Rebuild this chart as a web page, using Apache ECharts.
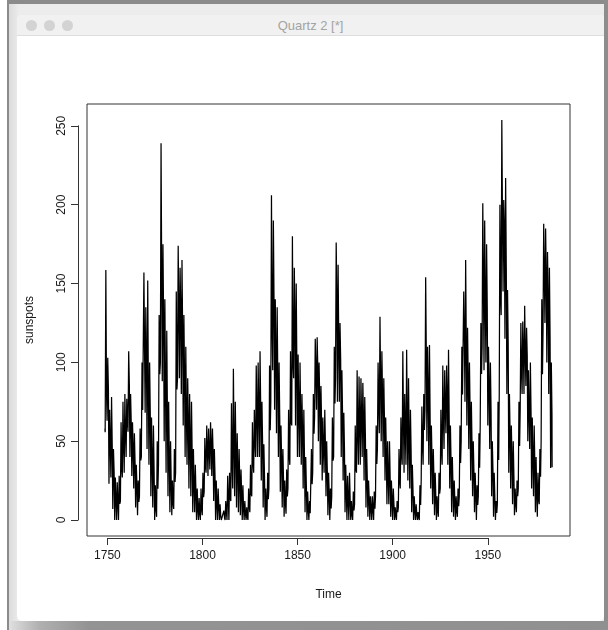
<!DOCTYPE html>
<html>
<head>
<meta charset="utf-8">
<script src="https://cdn.jsdelivr.net/npm/echarts@6/dist/echarts.min.js"></script>
<style>
  html, body { margin: 0; padding: 0; width: 608px; height: 630px; overflow: hidden; background: #fff; }
  #backdrop { position: absolute; left: 7px; top: 0; width: 599px; height: 626px;
    border-top: 4px solid #8b8b8b; border-left: 2px solid #8b8b8b;
    background: linear-gradient(to right, #dcdcdc 0px, #ececec 10px, #ececec 100%); }
  #rightEdge { position: absolute; left: 604px; top: 0; width: 4px; height: 630px; background: #8d8d8d; }
  #bottomEdge { position: absolute; left: 9px; top: 621px; width: 599px; height: 9px;
    background: linear-gradient(to right, #e0e0e0 0px, #b0b0b0 30px, #939393 80px, #909090 100%); }
  #win { position: absolute; left: 17px; top: 15px; width: 587px; height: 606px; background: #fff;
    border-radius: 5px; overflow: hidden; }
  #titlebar { position: absolute; left: 0; top: 0; width: 100%; height: 20px; background: #f1f1f1;
    border-bottom: 1px solid #dedede; }
  .light { position: absolute; top: 5px; width: 11px; height: 11px; border-radius: 50%; background: #d3d3d3; }
  #title { position: absolute; left: 0; top: 3px; width: 100%; text-align: center;
    font-family: "Liberation Sans", Arial, sans-serif; font-size: 13px; color: #a3a3a3; }
  #chart { position: absolute; left: 0; top: 0; width: 608px; height: 630px; }
</style>
</head>
<body>
<div id="backdrop"></div>
<div id="rightEdge"></div>
<div id="bottomEdge"></div>
<div id="win">
  <div id="titlebar">
    <div class="light" style="left:9px"></div>
    <div class="light" style="left:27px"></div>
    <div class="light" style="left:45px"></div>
    <div id="title">Quartz 2 [*]</div>
  </div>
</div>
<div id="chart"></div>
<script>
// Monthly sunspot numbers 1749-1983, summarised per year by the lowest
// month, the highest month and the annual mean, plus the first and last months.
const firstYear = 1749;
const firstMonthValue = 58.0;   // Jan 1749
const lastMonthValue = 33.4;    // Dec 1983

const yearHigh = [
  158.6, 103, 70, 78, 45, 27, 24, 28, 62, 75,      // 1749-1758
  80, 77, 107, 80, 62, 55, 35, 25, 58, 100,        // 1759-1768
  157, 135, 152, 100, 65, 60, 22, 50, 130, 239,    // 1769-1778
  175, 140, 120, 75, 50, 25, 45, 145, 174, 160,    // 1779-1788
  165, 130, 110, 90, 80, 75, 45, 35, 20, 14,       // 1789-1798
  20, 30, 52, 60, 58, 62, 58, 45, 25, 20,          // 1799-1808
  10, 0, 6, 12, 28, 30, 74, 96, 75, 55,            // 1809-1818
  45, 32, 22, 12, 8, 20, 35, 62, 70, 98,           // 1819-1828
  100, 107, 75, 48, 20, 30, 98, 206, 190, 140,     // 1829-1838
  135, 100, 60, 45, 25, 32, 70, 107, 180, 160,     // 1839-1848
  150, 105, 100, 80, 70, 40, 18, 12, 45, 80,       // 1849-1858
  115, 116, 100, 85, 65, 70, 50, 30, 20, 65,       // 1859-1868
  110, 176, 162, 125, 95, 68, 35, 28, 30, 12,      // 1869-1878
  18, 60, 95, 91, 90, 87, 78, 45, 25, 15,          // 1879-1888
  15, 18, 60, 100, 129, 107, 90, 65, 50, 50,       // 1889-1898
  25, 20, 8, 12, 45, 65, 107, 80, 108, 90,         // 1899-1908
  70, 35, 15, 10, 5, 22, 72, 80, 154, 110,         // 1909-1918
  111, 60, 45, 30, 15, 30, 70, 98, 95, 98,         // 1919-1928
  108, 60, 40, 25, 15, 20, 60, 110, 145, 165,      // 1929-1938
  122, 100, 75, 50, 30, 22, 55, 125, 201, 190,     // 1939-1948
  175, 110, 100, 50, 30, 12, 75, 200, 253.8, 203,  // 1949-1958
  217, 146, 80, 60, 50, 20, 25, 75, 125, 126,      // 1959-1968
  136, 122, 95, 100, 65, 60, 40, 30, 45, 140,      // 1969-1978
  188, 185, 170, 160, 100                          // 1979-1983
];

const yearLow = [
  55.7, 63, 23, 27, 7, 0, 0, 0, 12, 27,            // 1749-1758
  30, 40, 56, 40, 28, 20, 8, 3, 15, 40,            // 1759-1768
  70, 68, 45, 35, 15, 8, 0, 2, 35, 100,            // 1769-1778
  88, 50, 30, 15, 5, 3, 7, 30, 90, 90,             // 1779-1788
  80, 60, 40, 35, 20, 15, 5, 5, 0, 0,              // 1789-1798
  0, 3, 18, 30, 28, 32, 28, 12, 0, 0,              // 1799-1808
  0, 0, 0, 0, 0, 0, 12, 20, 15, 8,                 // 1809-1818
  5, 3, 0, 0, 0, 0, 5, 15, 30, 40,                 // 1819-1828
  40, 40, 25, 8, 0, 2, 20, 75, 95, 70,             // 1829-1838
  55, 40, 18, 8, 2, 4, 20, 35, 60, 90,             // 1839-1848
  60, 40, 40, 35, 20, 5, 0, 0, 5, 30,              // 1849-1858
  65, 70, 50, 35, 25, 30, 15, 3, 0, 15,            // 1859-1868
  40, 90, 75, 75, 40, 25, 5, 0, 0, 0,              // 1869-1878
  0, 10, 30, 35, 35, 40, 25, 8, 2, 0,              // 1879-1888
  0, 0, 15, 45, 55, 50, 40, 25, 10, 10,            // 1889-1898
  2, 0, 0, 0, 8, 20, 35, 30, 35, 25,               // 1899-1908
  20, 5, 0, 0, 0, 0, 25, 35, 70, 50,               // 1909-1918
  35, 20, 10, 3, 0, 2, 20, 35, 45, 55,             // 1919-1928
  35, 20, 5, 2, 0, 2, 15, 50, 80, 75,              // 1929-1938
  60, 45, 25, 15, 5, 0, 15, 60, 110, 95,           // 1939-1948
  100, 60, 45, 15, 2, 0, 10, 80, 130, 145,         // 1949-1958
  115, 80, 30, 20, 10, 3, 5, 20, 70, 80,           // 1959-1968
  80, 85, 50, 45, 20, 15, 5, 2, 10, 50,            // 1969-1978
  120, 125, 100, 80, 33                            // 1979-1983
];

const yearMean = [
  80.9, 83.4, 47.7, 47.8, 30.7, 12.2, 9.6, 10.2, 32.4, 47.6,          // 1749-1758
  54.0, 62.9, 85.9, 61.2, 45.1, 36.4, 20.9, 11.4, 37.8, 69.8,         // 1759-1768
  106.1, 100.8, 81.6, 66.5, 34.8, 30.6, 7.0, 19.8, 92.5, 154.4,       // 1769-1778
  125.9, 84.8, 68.1, 38.5, 22.8, 10.2, 24.1, 82.9, 132.0, 130.9,      // 1779-1788
  118.1, 89.9, 66.6, 60.0, 46.9, 41.0, 21.3, 16.0, 6.4, 4.1,          // 1789-1798
  6.8, 14.5, 34.0, 45.0, 43.1, 47.5, 42.2, 28.1, 10.1, 8.1,           // 1799-1808
  2.5, 0.0, 1.4, 5.0, 12.2, 13.9, 35.4, 45.8, 41.1, 30.1,             // 1809-1818
  23.9, 15.6, 6.6, 4.0, 1.8, 8.5, 16.6, 36.3, 49.6, 64.2,             // 1819-1828
  67.0, 70.9, 47.8, 27.5, 8.5, 13.2, 56.9, 121.5, 138.3, 103.2,       // 1829-1838
  85.7, 64.6, 36.7, 24.2, 10.7, 15.0, 40.1, 61.5, 98.5, 124.7,        // 1839-1848
  96.3, 66.6, 64.5, 54.1, 39.0, 20.6, 6.7, 4.3, 22.7, 54.8,           // 1849-1858
  93.8, 95.8, 77.2, 59.1, 44.0, 47.0, 30.5, 16.3, 7.3, 37.6,          // 1859-1868
  74.0, 139.0, 111.2, 101.6, 66.2, 44.7, 17.0, 11.3, 12.4, 3.4,       // 1869-1878
  6.0, 32.3, 54.3, 59.7, 63.7, 63.5, 52.2, 25.4, 13.1, 6.8,           // 1879-1888
  6.3, 7.1, 35.6, 73.0, 85.1, 78.0, 64.0, 41.8, 26.2, 26.7,           // 1889-1898
  12.1, 9.5, 2.7, 5.0, 24.4, 42.0, 63.5, 53.8, 62.0, 48.5,            // 1899-1908
  43.9, 18.6, 5.7, 3.6, 1.4, 9.6, 47.4, 57.1, 103.9, 80.6,            // 1909-1918
  63.6, 37.6, 26.1, 14.2, 5.8, 16.7, 44.3, 63.9, 69.0, 77.8,          // 1919-1928
  64.9, 35.7, 21.2, 11.1, 5.7, 8.7, 36.1, 79.7, 114.4, 109.6,         // 1929-1938
  88.8, 67.8, 47.5, 30.6, 16.3, 9.6, 33.2, 92.6, 151.6, 136.3,        // 1939-1948
  134.7, 83.9, 69.4, 31.5, 13.9, 4.4, 38.0, 141.7, 190.2, 184.8,      // 1949-1958
  159.0, 112.3, 53.9, 37.6, 27.9, 10.2, 15.1, 47.0, 93.8, 105.9,      // 1959-1968
  105.5, 104.5, 66.6, 68.9, 38.0, 34.5, 15.5, 12.6, 27.5, 92.5,       // 1969-1978
  155.4, 154.6, 140.4, 115.9, 66.6                                    // 1979-1983
];

const xTicks = [1750, 1800, 1850, 1900, 1950];
const yTicks = [0, 50, 100, 150, 200, 250];

// Time series points: within each year the low month, the high month and the mean.
const points = [[firstYear, firstMonthValue]];
for (let i = 0; i < yearHigh.length; i++) {
  const yr = firstYear + i;
  points.push([yr + 0.15, yearLow[i]]);
  points.push([yr + 0.5, yearHigh[i]]);
  points.push([yr + 0.85, yearMean[i]]);
}
const lastYear = firstYear + yearHigh.length - 1;
points.push([lastYear + 11 / 12, lastMonthValue]);

// R-style padded limits (4% beyond the data range)
const xDataMin = firstYear, xDataMax = lastYear + 11 / 12;
const yDataMin = 0, yDataMax = Math.max(...yearHigh);
const xPad = (xDataMax - xDataMin) * 0.04, yPad = (yDataMax - yDataMin) * 0.04;

const font = '"Liberation Sans", Arial, Helvetica, sans-serif';
const ink = '#1a1a1a';

const chart = echarts.init(document.getElementById('chart'), null, { renderer: 'canvas' });
chart.setOption({
  animation: false,
  backgroundColor: 'transparent',
  grid: [
    // plotting box
    { left: 87, top: 104, width: 483, height: 432, show: true, borderColor: '#333', borderWidth: 1, backgroundColor: 'transparent' },
    // x axis strip (first to last tick)
    { left: 107.4, top: 104, width: 380.4, height: 434 },
    // y axis strip (first to last tick)
    { left: 78, top: 125.8, width: 492, height: 394.2 }
  ],
  xAxis: [
    { gridIndex: 0, type: 'value', min: xDataMin - xPad, max: xDataMax + xPad, show: false },
    { gridIndex: 1, type: 'value', min: xTicks[0], max: xTicks[xTicks.length - 1], interval: 50,
      axisLine: { show: true, lineStyle: { color: '#333', width: 1 } },
      axisTick: { show: true, length: 7, lineStyle: { color: '#333' } },
      axisLabel: { show: true, margin: 12, color: ink, fontSize: 12, fontFamily: font,
        formatter: v => String(v) },
      splitLine: { show: false } },
    { gridIndex: 2, type: 'value', show: false }
  ],
  yAxis: [
    { gridIndex: 0, type: 'value', min: yDataMin - yPad, max: yDataMax + yPad, show: false },
    { gridIndex: 1, type: 'value', show: false },
    { gridIndex: 2, type: 'value', min: yTicks[0], max: yTicks[yTicks.length - 1], interval: 50,
      axisLine: { show: true, lineStyle: { color: '#333', width: 1 } },
      axisTick: { show: true, length: 7, lineStyle: { color: '#333' } },
      axisLabel: { show: true, rotate: 90, margin: 10, color: ink, fontSize: 12, fontFamily: font,
        formatter: v => String(v) },
      splitLine: { show: false } }
  ],
  series: [{
    type: 'line',
    xAxisIndex: 0,
    yAxisIndex: 0,
    data: points,
    showSymbol: false,
    symbol: 'none',
    lineStyle: { color: '#000', width: 1.25 },
    clip: true
  }],
  graphic: [
    { type: 'text', x: 328.5, y: 595,
      style: { text: 'Time', font: '12px ' + font, fill: ink, textAlign: 'center', textVerticalAlign: 'middle' } },
    { type: 'text', x: 30, y: 320, rotation: Math.PI / 2,
      style: { text: 'sunspots', font: '12px ' + font, fill: ink, textAlign: 'center', textVerticalAlign: 'middle' } }
  ]
});
</script>
</body>
</html>
